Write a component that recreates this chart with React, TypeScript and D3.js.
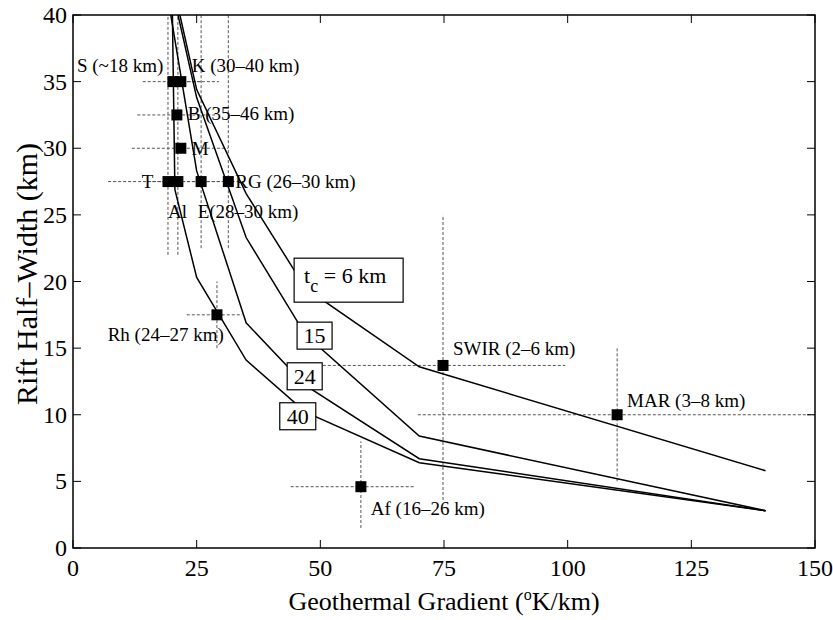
import { useMemo } from 'react';
import * as d3 from 'd3';

// --- Data ---
const xTicks = [0, 25, 50, 75, 100, 125, 150];
const yTicks = [0, 5, 10, 15, 20, 25, 30, 35, 40];

// model curves: geothermal gradient vs rift half-width, one per crustal thickness
const curveNames = ['6', '15', '24', '40'];
const grad6 = [21, 25, 35, 47, 70, 140];
const width6 = [41.0, 34.4, 26.6, 19.5, 13.6, 5.8];
const grad15 = [20.5, 25, 35, 47, 70, 140];
const width15 = [41.2, 33.8, 23.3, 16.0, 8.4, 2.8];
const grad24 = [19.5, 25, 35, 47, 70, 140];
const width24 = [40.6, 28.3, 16.9, 12.2, 6.7, 2.8];
const grad40 = [20, 20.6, 25, 35, 47, 70, 140];
const width40 = [42.5, 26.9, 20.3, 14.1, 10.2, 6.4, 2.8];

// observed rifts
const siteNames = ['S', 'K', 'B', 'M', 'T', 'Al', 'E', 'RG', 'Rh', 'SWIR', 'MAR', 'Af'];
const siteGrad = [20.2, 21.8, 21.0, 21.8, 19.2, 21.2, 25.9, 31.4, 29.1, 74.8, 110, 58.2];
const siteWidth = [35, 35, 32.5, 30, 27.5, 27.5, 27.5, 27.5, 17.5, 13.7, 10, 4.6];
const gradLo = [14.1, 20, 13.0, 11.9, 7.1, 15, 21, 26, 23, 50.5, 69.7, 44];
const gradHi = [26, 29.5, 29.1, 31.3, 22, 25, 30, 34.8, 34.2, 99.5, 150, 69];
const widthLo = [35, 35, 32.5, 30, 22, 22, 22.5, 22.5, 15, 3.6, 5, 1.5];
const widthHi = [35, 35, 32.5, 30, 40, 40, 40, 40, 20, 25, 15, 8];

const siteLabels = ['S (~18 km)', 'K (30\u201340 km)', 'B (35\u201346 km)', 'M', 'T', 'Al', 'E(28\u201330 km)',
  'RG (26\u201330 km)', 'Rh (24\u201327 km)', 'SWIR (2\u20136 km)', 'MAR (3\u20138 km)', 'Af (16\u201326 km)'];
// label anchor in data units (start of text, baseline)
const labelGrad = [0.8, 24.0, 23.2, 24.0, 13.9, 19.2, 25.2, 32.8, 7.0, 76.8, 112, 60.2];
const labelWidth = [35.7, 35.7, 32.1, 29.5, 27.0, 24.8, 24.8, 27.0, 15.5, 14.5, 10.6, 2.5];

// curve label boxes (top-left corner in data units, size in px)
const boxGrad = [44.7, 45.3, 43.3, 41.8];
const boxWidth = [21.75, 16.95, 13.9, 10.9];
const boxW = [109, 35, 35, 36];
const boxH = [44, 27, 27, 27];

// --- Chart ---
const W = 833;
const H = 620;
const left = 73, right = 815, top = 15, bottom = 548;
const font = '"Liberation Serif", "Times New Roman", serif';

export default function App() {
  const x = d3.scaleLinear().domain([0, 150]).range([left, right]);
  const y = d3.scaleLinear().domain([0, 40]).range([bottom, top]);

  const curves = useMemo(() => {
    const gs = [grad6, grad15, grad24, grad40];
    const ws = [width6, width15, width24, width40];
    const line = d3.line<[number, number]>().x(d => x(d[0])).y(d => y(d[1]));
    return gs.map((g, i) => line(g.map((v, j) => [v, ws[i][j]] as [number, number])) as string);
  }, []);

  const tick = 8;
  const ebStyle = { stroke: '#555', strokeWidth: 1, strokeDasharray: '3,2', fill: 'none' };

  return (
    <svg width={W} height={H} style={{ position: 'absolute', left: 0, top: 0, background: '#fff' }}
         fontFamily={font}>
      <defs>
        <clipPath id="plot">
          <rect x={left} y={top} width={right - left} height={bottom - top} />
        </clipPath>
      </defs>
      <rect x={0} y={0} width={W} height={H} fill="#fff" />

      {/* error bars */}
      <g clipPath="url(#plot)">
        {siteNames.map((s, i) => (
          <g key={'eb' + s}>
            <line x1={x(gradLo[i])} x2={x(gradHi[i])} y1={y(siteWidth[i])} y2={y(siteWidth[i])} style={ebStyle} />
            {widthLo[i] !== widthHi[i] && (
              <line x1={x(siteGrad[i])} x2={x(siteGrad[i])} y1={y(widthLo[i])} y2={y(widthHi[i])} style={ebStyle} />
            )}
          </g>
        ))}
      </g>

      {/* curves */}
      <g clipPath="url(#plot)">
        {curves.map((d, i) => (
          <path key={curveNames[i]} d={d} fill="none" stroke="#000" strokeWidth={1.5} />
        ))}
      </g>

      {/* markers */}
      {siteNames.map((s, i) => (
        <rect key={'m' + s} x={x(siteGrad[i]) - 5.5} y={y(siteWidth[i]) - 5.5} width={11} height={11} fill="#000" />
      ))}

      {/* site labels */}
      {siteLabels.map((t, i) => (
        <text key={'l' + t} x={x(labelGrad[i])} y={y(labelWidth[i])} fontSize={19} fill="#000">{t}</text>
      ))}

      {/* curve label boxes */}
      {curveNames.map((n, i) => {
        const bx = x(boxGrad[i]);
        const by = y(boxWidth[i]);
        return (
          <g key={'b' + n}>
            <rect x={bx} y={by} width={boxW[i]} height={boxH[i]} fill="#fff" stroke="#000" strokeWidth={1.2} />
            {i === 0 ? (
              <text x={bx + 10} y={by + 25} fontSize={22}>
                t<tspan dy={9} fontSize={18}>c</tspan><tspan dy={-9}> = {n} km</tspan>
              </text>
            ) : (
              <text x={bx + boxW[i] / 2} y={by + 21} fontSize={22} textAnchor="middle">{n}</text>
            )}
          </g>
        );
      })}

      {/* axes box + inward ticks */}
      <rect x={left} y={top} width={right - left} height={bottom - top} fill="none" stroke="#000" strokeWidth={1.5} />
      {xTicks.map(t => (
        <g key={'xt' + t}>
          <line x1={x(t)} x2={x(t)} y1={bottom} y2={bottom - tick} stroke="#000" />
          <line x1={x(t)} x2={x(t)} y1={top} y2={top + tick} stroke="#000" />
          <text x={x(t)} y={bottom + 28} fontSize={24} textAnchor="middle">{t}</text>
        </g>
      ))}
      {yTicks.map(t => (
        <g key={'yt' + t}>
          <line x1={left} x2={left + tick} y1={y(t)} y2={y(t)} stroke="#000" />
          <line x1={right} x2={right - tick} y1={y(t)} y2={y(t)} stroke="#000" />
          <text x={left - 6} y={y(t) + 8} fontSize={24} textAnchor="end">{t}</text>
        </g>
      ))}

      {/* axis titles */}
      <text x={(left + right) / 2} y={610} fontSize={26} textAnchor="middle">
        Geothermal Gradient (<tspan dy={-10} fontSize={16}>o</tspan><tspan dy={10}>K/km)</tspan>
      </text>
      <text transform="translate(37,274) rotate(-90)" fontSize={30} textAnchor="middle">
        Rift Half{'\u2013'}Width (km)
      </text>
    </svg>
  );
}
